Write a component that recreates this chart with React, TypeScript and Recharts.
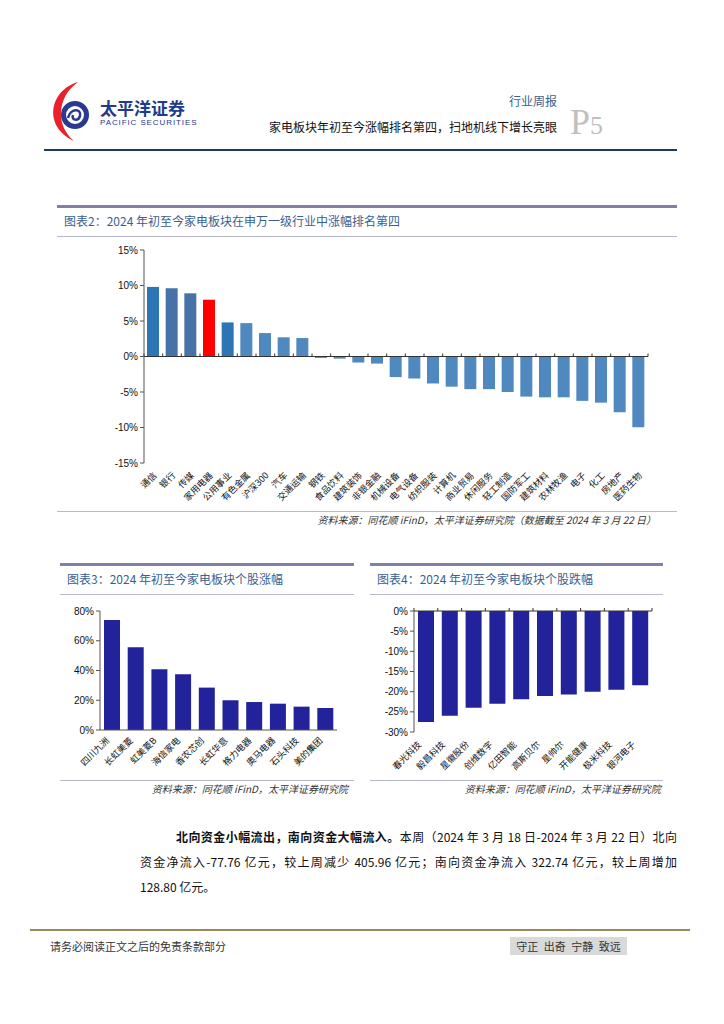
import React from "react";
import {
  BarChart,
  Bar,
  Cell,
  XAxis,
  YAxis,
  ReferenceLine,
} from "recharts";

// 图表2: 申万一级行业 2024 年初至今涨跌幅 (%)
const industries = [
  "通信", "银行", "传媒", "家用电器", "公用事业", "有色金属", "沪深300",
  "汽车", "交通运输", "钢铁", "食品饮料", "建筑装饰", "非银金融", "机械设备",
  "电气设备", "纺织服装", "计算机", "商业贸易", "休闲服务", "轻工制造",
  "国防军工", "建筑材料", "农林牧渔", "电子", "化工", "房地产", "医药生物",
];
const industryChange = [
  9.8, 9.6, 8.9, 8.0, 4.8, 4.7, 3.3, 2.7, 2.6, -0.2, -0.3, -0.85, -1.0, -2.9,
  -3.1, -3.8, -4.25, -4.6, -4.6, -5.0, -5.65, -5.75, -5.75, -6.25, -6.5, -7.85, -9.95,
];
const industryTicks = [-15, -10, -5, 0, 5, 10, 15];

// 图表3: 个股涨幅 (%)
const gainers = [
  "四川九洲", "长虹美菱", "虹美菱B", "海信家电", "香农芯创",
  "长虹华意", "格力电器", "奥马电器", "石头科技", "美的集团",
];
const gainerChange = [74.0, 55.6, 40.8, 37.4, 28.5, 20.0, 18.8, 17.7, 15.7, 14.8];
const gainerTicks = [0, 10, 20, 30, 40, 50, 60, 70, 80];

// 图表4: 个股跌幅 (%)
const losers = [
  "春光科技", "毅昌科技", "星徽股份", "创维数字", "亿田智能",
  "高斯贝尔", "星帅尔", "开能健康", "极米科技", "银河电子",
];
const loserChange = [-27.5, -26.0, -24.0, -23.0, -21.9, -21.1, -20.7, -20.05, -19.5, -18.4];
const loserTicks = [-30, -25, -20, -15, -10, -5, 0];

const highlight = "家用电器";
const strongBlue = ["通信", "公用事业"];
const midBlue = ["银行", "传媒"];

const industryData = industries.map((name, i) => ({ name, value: industryChange[i] }));
const gainerData = gainers.map((name, i) => ({ name, value: gainerChange[i] }));
const loserData = losers.map((name, i) => ({ name, value: loserChange[i] }));

const CJK = '"Noto Sans CJK SC", sans-serif';
const NUM = '"Liberation Sans", Arial, sans-serif';
const TITLE_BLUE = "#3a5f8f";
const NAVY = "#22229a";

const industryColor = (name: string) => {
  if (name === highlight) return "#ff0000";
  if (strongBlue.includes(name)) return "#2e75b6";
  if (midBlue.includes(name)) return "#4672a8";
  return "#4f89bf";
};

const slantTick = (dx: number, dy: number, size: number) => (p: any) => {
  const x = p.x + dx;
  const y = p.y + dy;
  return (
    <text
      x={x}
      y={y}
      textAnchor="end"
      fontSize={size}
      fontFamily={CJK}
      fill="#111"
      transform={`rotate(-45 ${x} ${y})`}
    >
      {p.payload.value}
    </text>
  );
};

// zero line with small tick marks at category boundaries
const zeroLine = (count: number) => (p: any) => {
  const { x1, x2, y1 } = p;
  const step = (x2 - x1) / count;
  const marks = [];
  for (let i = 0; i <= count; i++) {
    const x = x1 + step * i;
    marks.push(<line key={i} x1={x} x2={x} y1={y1} y2={y1 - 3} stroke="#333" />);
  }
  return (
    <g>
      <line x1={x1} x2={x2} y1={y1} y2={y1} stroke="#333" />
      {marks}
    </g>
  );
};

const pct = (v: number) => `${v}%`;
const yTick = { fontSize: 10, fontFamily: NUM, fill: "#111" };

const abs = (style: React.CSSProperties): React.CSSProperties => ({
  position: "absolute",
  whiteSpace: "nowrap",
  ...style,
});

const Rule = ({ left, top, width, height, color }: any) => (
  <div style={abs({ left, top, width, height, background: color })} />
);

const ChartFrame = ({ left, width, top, title, bottom, source, sourceRight }: any) => (
  <>
    <Rule left={left} top={top} width={width} height={3} color="#8080aa" />
    <div
      style={abs({
        left: left + 7,
        top: top + 9,
        fontSize: 12,
        lineHeight: "14px",
        fontFamily: CJK,
        color: TITLE_BLUE,
      })}
    >
      {title}
    </div>
    <Rule left={left} top={top + 31} width={width} height={1} color="#b8b8d2" />
    <Rule left={left} top={bottom} width={width} height={1} color="#b8b8d2" />
    <div
      style={abs({
        right: 724 - sourceRight,
        top: bottom + 2,
        fontSize: 10,
        lineHeight: "13px",
        fontFamily: CJK,
        fontStyle: "italic",
        color: "#333",
      })}
    >
      {source}
    </div>
  </>
);

const Logo = () => (
  <svg width={60} height={70} style={abs({ left: 40, top: 78 })}>
    <path d="M38,4 C10,12 2,48 34,63 C16,48 16,20 38,4 Z" fill="#e8212b" />
    <circle cx={35} cy={37} r={11.5} fill="none" stroke="#2b3990" strokeWidth={5} />
    <path d="M28,40 C30,30 42,30 40,38 C38,44 31,42 33,37" fill="none" stroke="#2b3990" strokeWidth={2.5} />
  </svg>
);

const bodyLine: React.CSSProperties = {
  fontSize: 12,
  lineHeight: "16px",
  fontFamily: CJK,
  color: "#111",
};

const App = () => {
  return (
    <div style={abs({ left: 0, top: 0, width: 724, height: 1024, background: "#fff" })}>
      {/* header */}
      <Logo />
      <div
        style={abs({
          left: 100,
          top: 98,
          fontSize: 17,
          lineHeight: "19px",
          fontWeight: 700,
          fontFamily: CJK,
          color: "#1e3b8c",
        })}
      >
        太平洋证券
      </div>
      <div
        style={abs({
          left: 100,
          top: 118,
          fontSize: 8,
          lineHeight: "9px",
          letterSpacing: 0.9,
          fontFamily: NUM,
          color: "#1e3b8c",
        })}
      >
        PACIFIC SECURITIES
      </div>
      <div
        style={abs({
          right: 167,
          top: 94,
          fontSize: 12,
          lineHeight: "14px",
          fontFamily: CJK,
          color: TITLE_BLUE,
        })}
      >
        行业周报
      </div>
      <div
        style={abs({
          right: 167,
          top: 120,
          fontSize: 12,
          lineHeight: "14px",
          fontFamily: CJK,
          color: "#111",
        })}
      >
        家电板块年初至今涨幅排名第四，扫地机线下增长亮眼
      </div>
      <div
        style={abs({
          left: 570,
          top: 104,
          fontFamily: '"Liberation Serif", serif',
          color: "#c0c0c0",
          lineHeight: "36px",
        })}
      >
        <span style={{ fontSize: 36 }}>P</span>
        <span style={{ fontSize: 26 }}>5</span>
      </div>
      <Rule left={44} top={149} width={633} height={2} color="#203864" />

      {/* 图表2 */}
      <ChartFrame
        left={57}
        width={620}
        top={205}
        bottom={511}
        sourceRight={656}
        title="图表2：2024 年初至今家电板块在申万一级行业中涨幅排名第四"
        source="资料来源：同花顺 iFinD，太平洋证券研究院（数据截至 2024 年 3 月 22 日）"
      />
      <div style={abs({ left: 57, top: 240 })}>
        <BarChart
          width={620}
          height={270}
          data={industryData}
          margin={{ top: 10, right: 29, left: 0, bottom: 0 }}
        >
          <XAxis
            dataKey="name"
            interval={0}
            axisLine={false}
            tickLine={false}
            tickSize={0}
            tickMargin={0}
            height={47}
            tick={slantTick(4, 13, 9)}
          />
          <YAxis
            width={87}
            domain={[-15, 15]}
            ticks={industryTicks}
            tickFormatter={pct}
            tick={yTick}
            tickSize={4}
            stroke="#555"
          />
          <Bar dataKey="value" barSize={12} isAnimationActive={false}>
            {industryData.map((d) => (
              <Cell key={d.name} fill={industryColor(d.name)} />
            ))}
          </Bar>
          <ReferenceLine y={0} shape={zeroLine(industryData.length)} />
        </BarChart>
      </div>

      {/* 图表3 */}
      <ChartFrame
        left={60}
        width={294}
        top={563}
        bottom={780}
        sourceRight={348}
        title="图表3：2024 年初至今家电板块个股涨幅"
        source="资料来源：同花顺 iFinD，太平洋证券研究院"
      />
      <div style={abs({ left: 60, top: 601 })}>
        <BarChart
          width={290}
          height={176}
          data={gainerData}
          margin={{ top: 10, right: 13, left: 0, bottom: 0 }}
        >
          <XAxis
            dataKey="name"
            interval={0}
            tickLine={false}
            tickSize={0}
            tickMargin={0}
            height={47}
            stroke="#555"
            tick={slantTick(-2, 11, 9)}
          />
          <YAxis
            width={40}
            domain={[0, 80]}
            ticks={gainerTicks}
            tickFormatter={pct}
            tick={yTick}
            tickSize={4}
            stroke="#555"
          />
          <Bar dataKey="value" barSize={16} fill={NAVY} isAnimationActive={false} />
        </BarChart>
      </div>

      {/* 图表4 */}
      <ChartFrame
        left={370}
        width={293}
        top={563}
        bottom={780}
        sourceRight={661}
        title="图表4：2024 年初至今家电板块个股跌幅"
        source="资料来源：同花顺 iFinD，太平洋证券研究院"
      />
      <div style={abs({ left: 370, top: 601 })}>
        <BarChart
          width={295}
          height={178}
          data={loserData}
          margin={{ top: 10, right: 13, left: 0, bottom: 0 }}
        >
          <XAxis
            dataKey="name"
            interval={0}
            axisLine={false}
            tickLine={false}
            tickSize={0}
            tickMargin={0}
            height={47}
            tick={slantTick(-4, 13, 9)}
          />
          <YAxis
            width={44}
            domain={[-30, 0]}
            ticks={loserTicks}
            tickFormatter={pct}
            tick={yTick}
            tickSize={4}
            stroke="#555"
          />
          <Bar dataKey="value" barSize={16} fill={NAVY} isAnimationActive={false} />
          <ReferenceLine y={0} shape={zeroLine(loserData.length)} />
        </BarChart>
      </div>

      {/* body text */}
      <div
        style={abs({
          ...bodyLine,
          left: 176,
          width: 501,
          top: 829,
          textAlignLast: "justify",
          textAlign: "justify",
          whiteSpace: "normal",
        })}
      >
        <b style={{ fontWeight: 600 }}>北向资金小幅流出，南向资金大幅流入。</b>本周（2024 年 3 月 18 日-2024 年 3 月 22 日）北向
      </div>
      <div
        style={abs({
          ...bodyLine,
          left: 140,
          width: 537,
          top: 854,
          textAlignLast: "justify",
          textAlign: "justify",
          whiteSpace: "normal",
        })}
      >
        资金净流入-77.76 亿元，较上周减少 405.96 亿元；南向资金净流入 322.74 亿元，较上周增加
      </div>
      <div style={abs({ ...bodyLine, left: 140, top: 879 })}>128.80 亿元。</div>

      {/* footer */}
      <Rule left={30} top={929} width={660} height={2} color="#958b5b" />
      <div
        style={abs({
          left: 50,
          top: 939,
          fontSize: 11,
          lineHeight: "14px",
          fontFamily: CJK,
          color: "#333",
        })}
      >
        请务必阅读正文之后的免责条款部分
      </div>
      <div
        style={abs({
          left: 510,
          top: 937,
          width: 117,
          height: 18,
          background: "#d9d9d9",
          fontSize: 11,
          lineHeight: "18px",
          fontFamily: CJK,
          color: "#333",
          textAlign: "center",
          wordSpacing: 3,
        })}
      >
        守正 出奇 宁静 致远
      </div>
    </div>
  );
};

export default App;
